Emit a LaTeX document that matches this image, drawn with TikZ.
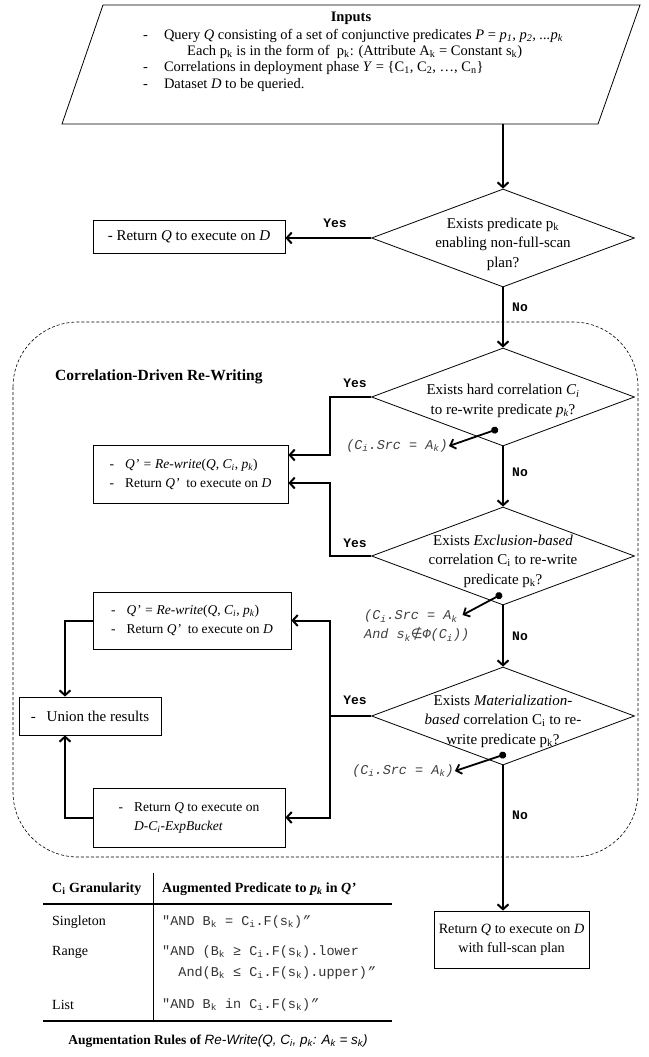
\documentclass[tikz,border=0pt]{standalone}
\usepackage{fontspec}
\setmainfont{Liberation Serif}
\setsansfont{Liberation Sans}
\setmonofont{Liberation Mono}
\newfontfamily\symfont{DejaVu Sans}
\usetikzlibrary{shapes.geometric,arrows.meta,positioning}

\newcommand{\low}[1]{\textsubscript{#1}}
\newcommand{\txtsize}{\fontsize{13.5}{19}\selectfont}
\newcommand{\bigsize}{\fontsize{15}{19.5}\selectfont}
\newcommand{\insize}{\fontsize{14.5}{16.3}\selectfont}
\newcommand{\monosize}{\fontsize{13.5}{19}\selectfont}

\begin{document}
\begin{tikzpicture}[x=1pt,y=-1pt,
  decision/.style={draw,diamond,line width=0.8pt,inner sep=0pt,minimum width=263pt,minimum height=98pt},
  dtext/.style={align=center,font=\bigsize,inner sep=0pt},
  box/.style={draw,line width=0.8pt,align=left,font=\txtsize,inner sep=0pt},
  flow/.style={line width=2pt,-{Straight Barb[length=5pt,width=11pt]}},
  answer/.style={font=\ttfamily\bfseries\fontsize{13}{15}\selectfont,inner sep=0pt},
  note/.style={font=\ttfamily\itshape\monosize,text=black!75,inner sep=1pt,align=left},
  pin/.style={line width=1.8pt,{Circle[length=7pt]}-{Straight Barb[length=5pt,width=10pt]}},
  region/.style={dash pattern=on 3pt off 2pt,line width=0.6pt,rounded corners=65pt},
  tabcode/.style={anchor=west,font=\ttfamily\monosize,text=black!80,align=left,inner sep=0pt},
  tabtext/.style={anchor=west,font=\fontsize{14}{19}\selectfont,inner sep=0pt}
]
\fill[white] (0,0) rectangle (648,1057);

% inputs
\draw[line width=0.8pt] (103,5) -- (640,5) -- (598,124) -- (62,124) -- cycle;
\node[minimum width=578pt,minimum height=119pt] (inputs) at (351,64.5) {};
\node[font=\bfseries\insize,inner sep=0pt] (intitle) at (351,18) {Inputs};
\node[anchor=west,align=left,font=\insize,inner sep=0pt] (inlist) at (143,60) {%
-\hspace{16pt}Query \textit{Q} consisting of a set of conjunctive predicates \textit{P} = \textit{p\low{1}, p\low{2}, ...p\low{k}}\\
\hspace{44pt}Each p\low{k} is in the form of\ \ p\low{k}: (Attribute A\low{k} = Constant s\low{k})\\
-\hspace{16pt}Correlations in deployment phase \textit{Υ} = \{C\low{1}, C\low{2}, …, C\low{n}\}\\
-\hspace{16pt}Dataset \textit{D} to be queried.};

% decisions
\node[decision] (d1) at (503,238) {};
\node[dtext] (d1t) at (503,244) {Exists predicate p\low{k}\\enabling non-full-scan\\plan?};
\node[decision] (d2) at (503,397) {};
\node[dtext] (d2t) at (503,401) {Exists hard correlation \textit{C\low{i}}\\to re-write predicate \textit{p\low{k}}?};
\node[decision] (d3) at (503,556) {};
\node[dtext] (d3t) at (503,561) {Exists \textit{Exclusion-based}\\correlation C\low{i} to re-write\\predicate p\low{k}?};
\node[decision] (d4) at (503,716) {};
\node[dtext] (d4t) at (503,721) {Exists \textit{Materialization-}\\\textit{based} correlation C\low{i} to re-\\write predicate p\low{k}?};

% boxes
\node[box,font=\bigsize,minimum width=192pt,minimum height=33pt] (ret) at (189,236.5) {- Return \textit{Q} to execute on \textit{D}};
\node[box,minimum width=195pt,minimum height=58pt] (rw1) at (190.5,474)
  {-\hspace{11pt}\textit{Q’ = Re-write}(\textit{Q}, \textit{C\low{i}}, \textit{p\low{k}})\\-\hspace{11pt}Return \textit{Q’}\ \ to execute on \textit{D}};
\node[box,minimum width=198pt,minimum height=57pt] (rw2) at (192,620.5)
  {-\hspace{11pt}\textit{Q’ = Re-write}(\textit{Q}, \textit{C\low{i}}, \textit{p\low{k}})\\-\hspace{11pt}Return \textit{Q’}\ \ to execute on \textit{D}};
\node[box,font=\bigsize,minimum width=142pt,minimum height=38pt] (union) at (90,716) {-\hspace{11pt}Union the results};
\node[box,minimum width=192pt,minimum height=59pt] (bucket) at (189,817.5)
  {-\hspace{11pt}Return \textit{Q} to execute on\\\phantom{-\hspace{11pt}}\textit{D-C\low{i}-ExpBucket}};
\node[box,align=center,font=\fontsize{14.2}{19}\selectfont,minimum width=155pt,minimum height=57pt] (final) at (511.5,939.5)
  {Return \textit{Q} to execute on \textit{D}\\with full-scan plan};

% re-writing region
\draw[region] (13,322) rectangle (638,857);
\node[anchor=west,font=\bfseries\fontsize{15.5}{17}\selectfont,inner sep=0pt] (cdr) at (55,377) {Correlation-Driven Re-Writing};

% flow
\draw[flow] (inputs.south -| d1.north) -- (d1.north);
\draw[flow] (d1.west) -- (d1.west -| ret.east);
\draw[flow] (d1.south) -- (d2.north);
\draw[flow] (d2.south) -- (d3.north);
\draw[flow] (d3.south) -- (d4.north);
\draw[flow] (d4.south) -- (d4.south |- final.north);
\draw[flow] (d2.west) -- ++(-41,0) |- ([yshift=19pt]rw1.east);
\draw[flow] (d3.west) -- ++(-41,0) |- ([yshift=-9pt]rw1.east);
\draw[line width=2pt] (d4.west) -- ++(-41,0) coordinate (j4);
\draw[flow] (j4) |- (rw2.east);
\draw[flow] (j4) |- (bucket.east);
\draw[flow] (rw2.west) -| ([xshift=-25pt]union.north);
\draw[flow] (bucket.west) -| ([xshift=-25pt]union.south);

% yes / no
\node[answer] (y1) at (335,223) {Yes};
\node[answer] (y2) at (355,383) {Yes};
\node[answer] (y3) at (355,543) {Yes};
\node[answer] (y4) at (355,700) {Yes};
\node[answer] (n1) at (520,307) {No};
\node[answer] (n2) at (520,472) {No};
\node[answer] (n3) at (520,636) {No};
\node[answer] (n4) at (520,815) {No};

% conditions
\node[note] (c2) at (397,446) {(C\low{i}.Src = A\low{k})};
\coordinate (p2) at (498,429);
\draw[pin] (p2) -- (c2.east);
\node[note,anchor=west] (c3) at (363,626) {(C\low{i}.Src = A\low{k}\\And s\low{k}{\upshape\symfont ∉}Φ(C\low{i}))};
\coordinate (p3) at (502,594);
\draw[pin] (p3) -- ([xshift=-8pt,yshift=-6pt]c3.north east);
\node[note] (c4) at (403,771) {(C\low{i}.Src = A\low{k})};
\coordinate (p4) at (506,754);
\draw[pin] (p4) -- (c4.east);

% augmentation table
\draw[line width=0.9pt] (153,873) -- (153,1021);
\draw[line width=1.5pt] (43,904) -- (392,904);
\draw[line width=1.5pt] (43,1021) -- (392,1021);
\node[tabtext,font=\bfseries\fontsize{14}{19}\selectfont] (hgran) at (52,889) {C\low{i} Granularity};
\node[tabtext,font=\bfseries\fontsize{14}{19}\selectfont] (haug) at (162,889) {Augmented Predicate to \textit{p\low{k}} in \textit{Q’}};
\node[tabtext] (rsing) at (52,922) {Singleton};
\node[tabcode] (csing) at (162,922) {"AND B\low{k} = C\low{i}.F(s\low{k})\textit{”}};
\node[tabtext] (rrange) at (52,952) {Range};
\node[tabcode,font=\ttfamily\fontsize{13.5}{21}\selectfont] (crange) at (162,962.5)
  {"AND (B\low{k} ≥ C\low{i}.F(s\low{k}).lower\\\phantom{"A}And(B\low{k} ≤ C\low{i}.F(s\low{k}).upper)\textit{”}};
\node[tabtext] (rlist) at (52,1005) {List};
\node[tabcode] (clist) at (162,1005) {"AND B\low{k} in C\low{i}.F(s\low{k})\textit{”}};
\node[font=\bfseries\txtsize,inner sep=0pt] (cap) at (218,1041)
  {Augmentation Rules of \textsf{\mdseries\itshape Re-Write(Q, C\low{i}, p\low{k}: A\low{k} = s\low{k})}};
\end{tikzpicture}
\end{document}
